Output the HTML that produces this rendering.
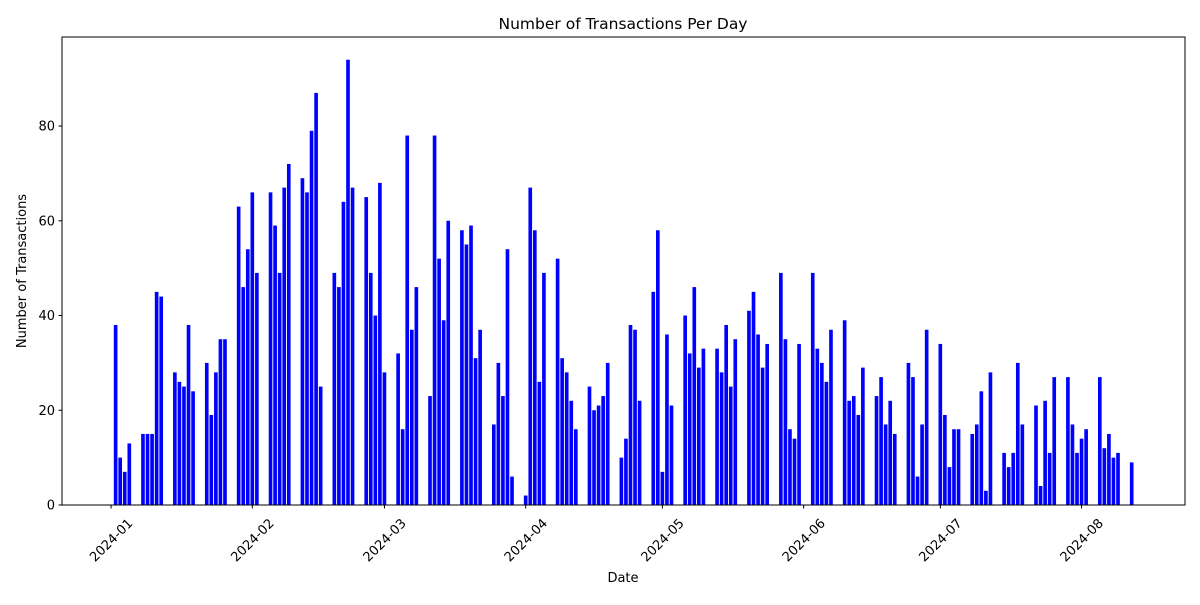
<!DOCTYPE html>
<html><head><meta charset="utf-8"><style>
body{margin:0;background:#fff;font-family:"Liberation Sans","DejaVu Sans",sans-serif;}
svg text{font-family:"DejaVu Sans","Liberation Sans",sans-serif;fill:#000;}
</style></head><body>
<svg id="chart" width="1200" height="600" xmlns="http://www.w3.org/2000/svg">
<rect width="1200" height="600" fill="#fff"/>
<text x="623" y="29" font-size="15.5" text-anchor="middle">Number of Transactions Per Day</text>
<text x="623" y="582" font-size="13" text-anchor="middle">Date</text>
<text x="26" y="271" font-size="13" text-anchor="middle" transform="rotate(-90 26 271)">Number of Transactions</text>
<g id="bars"></g>
<g id="axes"></g>
</svg>
<script>
// day offsets from 2024-01-01
const dayOffsets = [1,2,3,4,7,8,9,10,11,14,15,16,17,18,21,22,23,24,25,28,29,30,31,32,35,36,37,38,39,42,43,44,45,46,49,50,51,52,53,56,57,58,59,60,63,64,65,66,67,70,71,72,73,74,77,78,79,80,81,84,85,86,87,88,91,92,93,94,95,98,99,100,101,102,105,106,107,108,109,112,113,114,115,116,119,120,121,122,123,126,127,128,129,130,133,134,135,136,137,140,141,142,143,144,147,148,149,150,151,154,155,156,157,158,161,162,163,164,165,168,169,170,171,172,175,176,177,178,179,182,183,184,185,186,189,190,191,192,193,196,197,198,199,200,203,204,205,206,207,210,211,212,213,214,217,218,219,220,221,224];
const counts = [38,10,7,13,15,15,15,45,44,28,26,25,38,24,30,19,28,35,35,63,46,54,66,49,66,59,49,67,72,69,66,79,87,25,49,46,64,94,67,65,49,40,68,28,32,16,78,37,46,23,78,52,39,60,58,55,59,31,37,17,30,23,54,6,2,67,58,26,49,52,31,28,22,16,25,20,21,23,30,10,14,38,37,22,45,58,7,36,21,40,32,46,29,33,33,28,38,25,35,41,45,36,29,34,49,35,16,14,34,49,33,30,26,37,39,22,23,19,29,23,27,17,22,15,30,27,6,17,37,34,19,8,16,16,15,17,24,3,28,11,8,11,30,17,21,4,22,11,27,27,17,11,14,16,27,12,15,10,11,9];
const xTickDays = [0,31,60,91,121,152,182,213];
const xTickLabels = ["2024-01","2024-02","2024-03","2024-04","2024-05","2024-06","2024-07","2024-08"];
const yTicks = [0,20,40,60,80];

const NS="http://www.w3.org/2000/svg";
const L=62,R=1185,T=37,B=505;
const xMin=-10.77,xMax=235.7,yMax=98.8;
const xs=d=>L+(d-xMin)/(xMax-xMin)*(R-L);
const ys=v=>B-v/yMax*(B-T);
function mk(tag,attrs,parent){const e=document.createElementNS(NS,tag);for(const k in attrs)e.setAttribute(k,attrs[k]);parent.appendChild(e);return e;}
const bars=document.getElementById('bars'),axes=document.getElementById('axes');
const bw=0.8*(R-L)/(xMax-xMin);
dayOffsets.forEach((d,i)=>{
  const r=mk('rect',{x:xs(d)-bw/2,y:ys(counts[i]),width:bw,height:B-ys(counts[i]),fill:'#0000ff'},bars);
  
  
});
const frame=mk('rect',{x:L,y:T,width:R-L,height:B-T,fill:'none',stroke:'#000','stroke-width':1},axes);


yTicks.forEach(v=>{
  const y=ys(v);
  const t=mk('line',{x1:L-3.5,x2:L,y1:y,y2:y,stroke:'#000'},axes);
  
  
  const lb=mk('text',{x:L-7,y:y+4.5,'font-size':13,'text-anchor':'end'},axes);
  lb.textContent=v;
  
  
});
xTickDays.forEach((d,i)=>{
  const x=xs(d);
  const t=mk('line',{x1:x,x2:x,y1:B,y2:B+3.5,stroke:'#000'},axes);
  
  
  const cy=B+35;
  const lb=mk('text',{x:x,y:cy+4.5,'font-size':13,'text-anchor':'middle',transform:`rotate(-45 ${x} ${cy})`},axes);
  lb.textContent=xTickLabels[i];
  
  
});
</script>
</body></html>
